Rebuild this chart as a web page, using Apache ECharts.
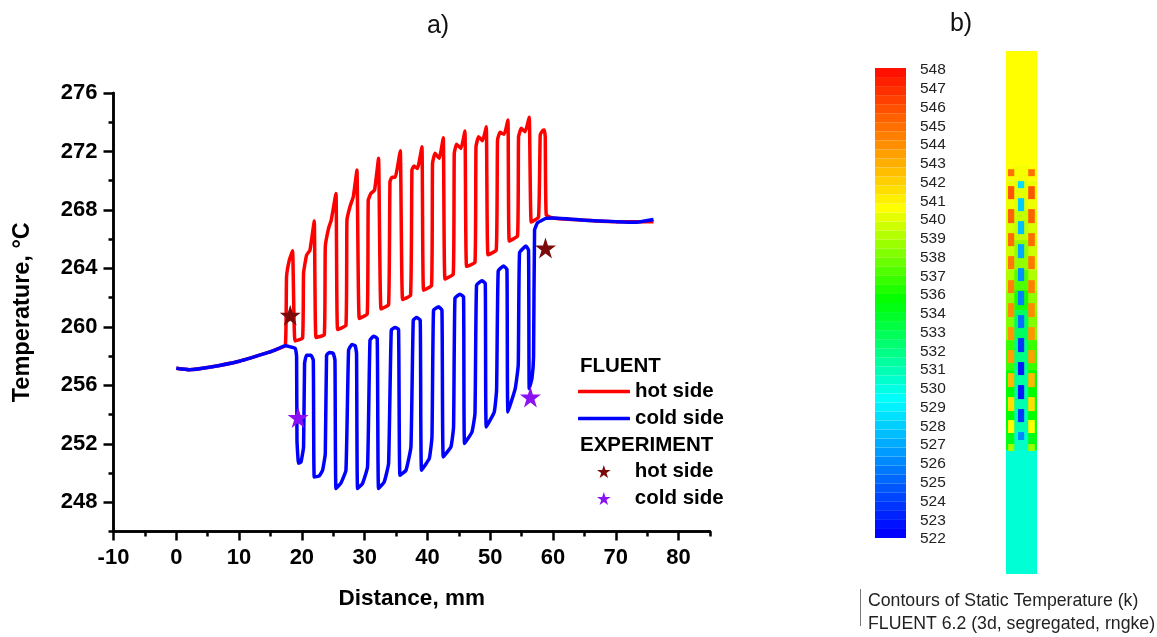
<!DOCTYPE html>
<html lang="en">
  <head>
    <meta charset="UTF-8" />
    <title>Temperature along the channel</title>
    <script src="https://cdn.jsdelivr.net/npm/echarts@6/dist/echarts.min.js"></script>
    <style>
      html, body { margin: 0; padding: 0; background: #fff; }
    </style>
  </head>
  <body>
    <div id="main" style="width: 1157px; height: 637px"></div>
    <script type="text/javascript">
      // panel a) shared start of both curves
      const inletX = [0, 2.07, 5.25, 10.03, 14.8, 15.9, 17.36];
      const inletT = [257.17, 257.07, 257.24, 257.65, 258.27, 258.45, 258.7];

      // panel a) FLUENT hot side
      const hotX = [
        17.56, 18.0, 18.52, 18.9, 20.11, 20.27, 20.75, 21.29, 21.97, 22.25, 23.57, 23.73, 24.25, 24.68,
        25.43, 25.69, 27.02, 27.18, 27.66, 28.19, 28.77, 29.14, 30.41, 30.57, 31.0, 31.58, 32.21, 32.6,
        33.81, 34.03, 34.35, 34.87, 35.67, 36.04, 37.31, 37.53, 37.85, 38.42, 39.12, 39.38, 40.65, 40.81,
        41.2, 41.88, 42.52, 42.79, 44.11, 44.27, 44.64, 45.34, 45.97, 46.23, 47.57, 47.73, 48.14, 48.78,
        49.37, 49.64, 50.96, 51.16, 51.55, 52.23, 52.82, 53.03, 54.35, 54.51, 54.94, 55.57, 56.21, 56.53,
        57.69, 57.96, 58.33, 58.6, 58.76, 58.92, 60, 65, 70, 76
      ];
      const hotT = [
        263.42, 264.57, 265.2, 259.04, 259.23, 263.68, 264.91, 265.25, 267.24, 259.28, 259.45, 265.48, 266.74, 267.31,
        269.13, 259.82, 260.1, 267.31, 268.22, 268.9, 270.73, 260.58, 260.87, 268.67, 269.13, 269.36, 271.53, 261.23,
        261.51, 269.93, 270.23, 270.23, 272.05, 261.88, 262.15, 270.73, 271.0, 270.84, 272.32, 262.51, 262.83, 271.19,
        271.87, 271.53, 272.94, 263.27, 263.61, 271.87, 272.49, 272.21, 273.4, 264.14, 264.41, 272.32, 273.01, 272.73,
        273.69, 264.93, 265.25, 272.78, 273.31, 273.17, 274.15, 265.87, 266.23, 273.01, 273.58, 273.35, 274.34, 267.17,
        267.49, 273.12, 273.42, 273.47, 273.01, 267.65, 267.45, 267.3, 267.2, 267.2
      ];

      // panel a) FLUENT cold side
      const coldX = [
        18.95, 19.16, 19.22, 19.47, 19.86, 20.27, 20.43, 20.75, 21.45, 21.82, 21.97, 22.77, 23.3, 23.73,
        23.93, 24.36, 25.0, 25.27, 25.43, 26.23, 27.02, 27.44, 27.98, 28.5, 28.71, 28.87, 29.66, 30.46,
        30.85, 31.42, 32.0, 32.21, 33.12, 33.81, 34.24, 34.87, 35.4, 35.62, 36.58, 37.37, 37.74, 38.27,
        38.85, 39.06, 40.29, 40.72, 40.97, 41.77, 42.31, 42.52, 43.74, 44.16, 44.38, 45.18, 45.75, 45.91,
        47.09, 47.57, 47.82, 48.68, 49.21, 49.37, 50.64, 51.01, 51.27, 52.12, 52.66, 52.82, 53.98, 54.46,
        54.67, 55.69, 56.1, 56.21, 56.64, 56.9, 57.06, 57.53, 58.87, 60, 65, 70, 73, 76
      ];
      const coldT = [
        258.52, 257.95, 252.24, 250.67, 250.76, 251.79, 257.52, 258.06, 258.06, 257.72, 249.73, 249.8, 250.19, 251.33,
        258.06, 258.25, 258.18, 257.72, 248.94, 249.32, 250.19, 258.41, 258.8, 258.7, 258.18, 248.94, 249.28, 250.42,
        259.09, 259.36, 259.21, 248.94, 249.4, 250.65, 259.78, 259.96, 259.82, 249.85, 250.19, 251.79, 260.46, 260.64,
        260.46, 250.19, 250.99, 252.47, 261.14, 261.37, 261.14, 251.1, 251.79, 253.15, 261.95, 262.24, 262.05, 252.02,
        252.81, 254.07, 262.86, 263.15, 262.97, 253.15, 254.18, 255.67, 263.83, 264.16, 263.93, 254.18, 255.78, 257.38,
        265.07, 265.53, 265.25, 255.78, 256.47, 257.95, 266.62, 267.12, 267.42, 267.45, 267.3, 267.2, 267.15, 267.35
      ];

      // panel a) EXPERIMENT points
      const expHotX = [18.15, 58.8];
      const expHotT = [260.8, 265.4];
      const expColdX = [19.4, 56.4];
      const expColdT = [253.8, 255.2];

      const yTicks = [248, 252, 256, 260, 264, 268, 272, 276];
      const xTicks = [-10, 0, 10, 20, 30, 40, 50, 60, 70, 80];

      // panel b) colour bar: printed labels (535 is not printed) and band edges
      const barLabels = [
        "522", "523", "524", "525", "526", "527", "528", "529", "530", "531", "532", "533", "534",
        "536", "537", "538", "539", "540", "541", "542", "543", "544", "545", "546", "547", "548"
      ];
      const barEdges = [
        522, 522.5, 523, 523.5, 524, 524.5, 525, 525.5, 526, 526.5, 527, 527.5, 528, 528.5, 529, 529.5, 530, 530.5,
        531, 531.5, 532, 532.5, 533, 533.5, 534, 534.5, 535, 535.5, 536, 536.5, 537, 537.5, 538, 538.5, 539, 539.5,
        540, 540.5, 541, 541.5, 542, 542.5, 543, 543.5, 544, 544.5, 545, 545.5, 546, 546.5, 547, 547.5, 548
      ];

      // panel b) contour strip, axial position in mm from the bottom
      const zoneTop = [75.5, 59.02, 56.85, 52.53, 48.2, 43.87, 40.98, 38.1, 33.77, 29.44, 25.11, 20.78, 17.89];
      const zoneBottom = [59.02, 56.85, 52.53, 48.2, 43.87, 40.98, 38.1, 33.77, 29.44, 25.11, 20.78, 17.89, 0];
      const zoneWallT = [540, 540, 539.7, 539.2, 539, 538.4, 537.8, 537.5, 536, 534.9, 534.9, 534.4, 530.3];
      const zoneCoreT = [540, 539.8, 539.5, 538.8, 537.8, 536.5, 535.4, 532.8, 532.1, 531.5, 531.1, 530.6, 530.3];

      const hotTop = [58.44, 55.99, 52.67, 49.21, 45.89, 42.42, 39.11, 35.64, 32.32, 29.0, 25.54, 22.22, 18.76];
      const hotBottom = [57.43, 54.11, 50.65, 47.33, 44.01, 40.55, 37.09, 33.77, 30.45, 26.98, 23.52, 20.35, 17.75];
      const hotBlockT = [544.5, 545.3, 545, 544.6, 544.2, 544, 543.6, 543.3, 543, 542.2, 541, 540, 538];

      const coldTop = [56.71, 54.26, 50.94, 47.62, 44.16, 40.84, 37.37, 34.06, 30.59, 27.27, 23.81, 20.49];
      const coldBottom = [55.7, 52.38, 49.06, 45.6, 42.28, 38.82, 35.5, 32.03, 28.72, 25.25, 21.93, 19.34];
      const coldBlockT = [528.4, 527.9, 527.5, 526.9, 526.2, 525.7, 525.2, 523.5, 522.7, 522.7, 523.6, 526];

      const FONT = "Liberation Sans";
      const STAR = "path://M50 0L61.8 36.3L100 36.3L69.1 58.8L80.9 95.1L50 72.6L19.1 95.1L30.9 58.8L0 36.3L38.2 36.3Z";

      const zip = (a, b) => a.map((v, i) => [v, b[i]]);

      // rainbow of the FLUENT colour bar
      const colourStops = [
        [522, [0, 0, 255]],
        [529.4, [0, 255, 255]],
        [534.9, [0, 255, 0]],
        [540, [255, 255, 0]],
        [548, [255, 0, 0]]
      ];
      function tempColour(t) {
        for (let i = 1; i < colourStops.length; i++) {
          const [t0, c0] = colourStops[i - 1];
          const [t1, c1] = colourStops[i];
          if (t <= t1) {
            const f = Math.max(0, (t - t0) / (t1 - t0));
            const c = c0.map((v, k) => Math.round(v + (c1[k] - v) * f));
            return "rgb(" + c.join(",") + ")";
          }
        }
        return "rgb(255,0,0)";
      }

      // [x0, x1, y0, y1, temperature]
      function renderCell(params, api) {
        const a = api.coord([api.value(0), api.value(3)]);
        const b = api.coord([api.value(1), api.value(2)]);
        return {
          type: "rect",
          shape: { x: a[0], y: a[1], width: b[0] - a[0], height: b[1] - a[1] },
          style: { fill: tempColour(api.value(4)) }
        };
      }

      const barCells = barEdges.slice(1).map((top, i) => [0, 1, barEdges[i], top, barEdges[i]]);

      const stripCells = [];
      zoneTop.forEach((top, i) => {
        stripCells.push([0, 4.5, zoneBottom[i], top, zoneWallT[i]]);
        stripCells.push([1.2, 3.22, zoneBottom[i], top, zoneCoreT[i]]);
      });
      hotTop.forEach((top, i) => {
        stripCells.push([0.29, 1.2, hotBottom[i], top, hotBlockT[i]]);
        stripCells.push([3.22, 4.18, hotBottom[i], top, hotBlockT[i]]);
      });
      coldTop.forEach((top, i) => {
        stripCells.push([1.73, 2.64, coldBottom[i], top, coldBlockT[i]]);
      });

      const axisLine = { show: true, onZero: false, lineStyle: { color: "#000", width: 2.5 } };
      const tickFont = { fontFamily: FONT, fontWeight: "bold", fontSize: 22, color: "#000" };
      const nameFont = { fontFamily: FONT, fontWeight: "bold", fontSize: 22.5, color: "#000" };
      const headFont = { fontFamily: FONT, fontWeight: "bold", fontSize: 20.5, fill: "#000" };
      const noteFont = { fontFamily: FONT, fontSize: 17.7, fill: "#222" };
      const panelFont = { fontFamily: FONT, fontWeight: "normal", fontSize: 25, color: "#111" };

      var myChart = echarts.init(document.getElementById("main"));

      var option = {
        animation: false,
        title: [
          { text: "a)", left: 433, top: 9, textAlign: "center", textStyle: panelFont },
          { text: "b)", left: 956, top: 7, textAlign: "center", textStyle: panelFont }
        ],
        grid: [
          { left: 113.5, top: 93, width: 596.5, height: 438.5, outerBoundsMode: "none" },
          { left: 875, top: 68, width: 31, height: 470, outerBoundsMode: "none" },
          { left: 1006, top: 51, width: 31, height: 523, outerBoundsMode: "none" },
          { left: 875, top: 70, width: 31, height: 469, outerBoundsMode: "none" }
        ],
        xAxis: [
          {
            gridIndex: 0, type: "value", position: "bottom", min: -10, max: 85, interval: 5,
            splitLine: { show: false }, axisLine: axisLine,
            axisTick: { show: true, length: 5, lineStyle: { color: "#000", width: 2.5 } },
            axisLabel: { show: false }
          },
          {
            gridIndex: 0, type: "value", position: "bottom", min: -10, max: 85,
            splitLine: { show: false }, axisLine: axisLine,
            axisTick: { show: true, length: 9, customValues: xTicks, lineStyle: { color: "#000", width: 2.5 } },
            axisLabel: Object.assign({ customValues: xTicks, margin: 15 }, tickFont),
            name: "Distance, mm", nameLocation: "middle", nameGap: 56, nameTextStyle: nameFont
          },
          { gridIndex: 1, type: "value", min: 0, max: 1, show: false },
          { gridIndex: 2, type: "value", min: 0, max: 4.5, show: false },
          { gridIndex: 3, type: "value", min: 0, max: 1, show: false }
        ],
        yAxis: [
          {
            gridIndex: 0, type: "value", position: "left", min: 246, max: 276, interval: 2,
            splitLine: { show: false }, axisLine: axisLine,
            axisTick: { show: true, length: 5, lineStyle: { color: "#000", width: 2.5 } },
            axisLabel: { show: false }
          },
          {
            gridIndex: 0, type: "value", position: "left", min: 246, max: 276,
            splitLine: { show: false }, axisLine: axisLine,
            axisTick: { show: true, length: 10, customValues: yTicks, lineStyle: { color: "#000", width: 2.5 } },
            axisLabel: Object.assign({ customValues: yTicks, margin: 16 }, tickFont),
            name: "Temperature, °C", nameLocation: "middle", nameRotate: 90, nameGap: 79,
            nameTextStyle: Object.assign({}, nameFont, { fontSize: 23.5 })
          },
          { gridIndex: 1, type: "value", min: 522, max: 548, show: false },
          { gridIndex: 2, type: "value", min: 0, max: 75.5, show: false },
          {
            gridIndex: 3, type: "category", position: "right", data: barLabels, boundaryGap: false,
            axisLine: { show: false }, axisTick: { show: false },
            axisLabel: { interval: 0, margin: 14, fontFamily: FONT, fontSize: 15.5, color: "#222" }
          }
        ],
        legend: [
          {
            orient: "vertical", left: 578, top: 381, padding: 0, itemWidth: 52, itemHeight: 3.5, itemGap: 6,
            data: [
              { name: "FLUENT hot side", icon: "roundRect" },
              { name: "FLUENT cold side", icon: "roundRect" }
            ],
            formatter: (name) => name.replace("FLUENT ", ""),
            textStyle: { fontFamily: FONT, fontWeight: "bold", fontSize: 20.5, color: "#000" }
          },
          {
            orient: "vertical", left: 597, top: 461, padding: 0, itemWidth: 52, itemHeight: 13, itemGap: 6,
            data: [
              { name: "EXPERIMENT hot side", icon: STAR },
              { name: "EXPERIMENT cold side", icon: STAR }
            ],
            formatter: (name) => name.replace("EXPERIMENT ", ""),
            textStyle: { fontFamily: FONT, fontWeight: "bold", fontSize: 20.5, color: "#000" }
          }
        ],
        graphic: [
          { type: "text", left: 580, top: 356, style: Object.assign({ text: "FLUENT" }, headFont) },
          { type: "text", left: 580, top: 435, style: Object.assign({ text: "EXPERIMENT" }, headFont) },
          { type: "text", left: 868, top: 592, style: Object.assign({ text: "Contours of Static Temperature (k)" }, noteFont) },
          { type: "text", left: 868, top: 615, style: Object.assign({ text: "FLUENT 6.2 (3d, segregated, rngke)" }, noteFont) },
          { type: "line", shape: { x1: 860.5, y1: 589, x2: 860.5, y2: 626 }, style: { stroke: "#777", lineWidth: 1 } }
        ],
        series: [
          {
            name: "FLUENT hot side", type: "line", xAxisIndex: 0, yAxisIndex: 0,
            data: zip(inletX.concat(hotX), inletT.concat(hotT)),
            showSymbol: false, symbol: "none", z: 3, smooth: 0.12,
            lineStyle: { color: "#ff0000", width: 3.5, join: "round" },
            itemStyle: { color: "#ff0000" }
          },
          {
            name: "FLUENT cold side", type: "line", xAxisIndex: 0, yAxisIndex: 0,
            data: zip(inletX.concat(coldX), inletT.concat(coldT)),
            showSymbol: false, symbol: "none", z: 4, smooth: 0.12,
            lineStyle: { color: "#0000ff", width: 3.5, join: "round" },
            itemStyle: { color: "#0000ff" }
          },
          {
            name: "EXPERIMENT hot side", type: "scatter", xAxisIndex: 0, yAxisIndex: 0,
            data: zip(expHotX, expHotT), symbol: STAR, symbolSize: 21, z: 5,
            itemStyle: { color: "#7b0a0a", opacity: 1 }
          },
          {
            name: "EXPERIMENT cold side", type: "scatter", xAxisIndex: 0, yAxisIndex: 0,
            data: zip(expColdX, expColdT), symbol: STAR, symbolSize: 21, z: 5,
            itemStyle: { color: "#8a12f2", opacity: 1 }
          },
          {
            name: "colour bar", type: "custom", coordinateSystem: "cartesian2d", xAxisIndex: 2, yAxisIndex: 2,
            data: barCells, renderItem: renderCell, encode: { x: [0, 1], y: [2, 3] }, silent: true
          },
          {
            name: "contours", type: "custom", coordinateSystem: "cartesian2d", xAxisIndex: 3, yAxisIndex: 3,
            data: stripCells, renderItem: renderCell, encode: { x: [0, 1], y: [2, 3] }, silent: true
          }
        ]
      };

      myChart.setOption(option);
    </script>
  </body>
</html>
